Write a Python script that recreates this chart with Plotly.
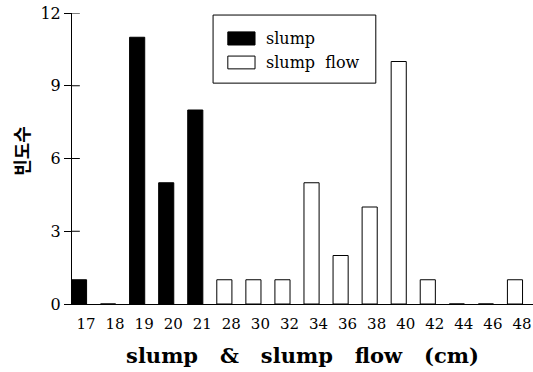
import plotly.graph_objects as go

categories = ["17", "18", "19", "20", "21", "28", "30", "32", "34", "36", "38", "40", "42", "44", "46", "48"]
slump_x = ["17", "18", "19", "20", "21"]
slump_y = [1, 0, 11, 5, 8]
flow_x = ["28", "30", "32", "34", "36", "38", "40", "42", "44", "46", "48"]
flow_y = [1, 1, 1, 5, 2, 4, 10, 1, 0, 0, 1]
y_ticks = [0, 3, 6, 9, 12]

SERIF = "DejaVu Serif"
NB = "\u00a0"

fig = go.Figure()
fig.add_trace(go.Bar(x=slump_x, y=slump_y, name="slump", width=0.52, offset=-0.5,
                     marker=dict(color="black", line=dict(color="black", width=1)),
                     showlegend=False))
fig.add_trace(go.Bar(x=flow_x, y=flow_y, name="slump flow", width=0.52, offset=-0.5,
                     marker=dict(color="white", line=dict(color="black", width=1)),
                     showlegend=False))

# inner half of the y tick marks (cross-through ticks)
shapes = []
for t in y_ticks:
    shapes.append(dict(type="line", xref="paper", yref="y", x0=0, x1=0.017, y0=t, y1=t,
                       line=dict(color="black", width=1)))

# custom legend
shapes.append(dict(type="rect", xref="paper", yref="paper", x0=0.306, x1=0.659, y0=0.759, y1=0.993,
                   line=dict(color="black", width=1), fillcolor="white"))
shapes.append(dict(type="rect", xref="paper", yref="paper", x0=0.338, x1=0.397, y0=0.890, y1=0.935,
                   line=dict(color="black", width=1), fillcolor="black"))
shapes.append(dict(type="rect", xref="paper", yref="paper", x0=0.338, x1=0.397, y0=0.808, y1=0.852,
                   line=dict(color="black", width=1), fillcolor="white"))

annotations = [
    dict(text="slump", xref="paper", yref="paper", x=0.417, y=0.914, xanchor="left", yanchor="middle",
         showarrow=False, font=dict(family=SERIF, size=16, color="black")),
    dict(text="slump" + NB * 2 + "flow", xref="paper", yref="paper", x=0.417, y=0.830,
         xanchor="left", yanchor="middle",
         showarrow=False, font=dict(family=SERIF, size=16, color="black")),
    dict(text="<b>빈도수</b>", xref="paper", yref="paper", x=-0.111, y=0.526, xanchor="center",
         yanchor="middle", textangle=-90, showarrow=False,
         font=dict(family="Noto Sans CJK KR", size=18, color="black")),
]

xtitle = "slump" + NB * 3 + "&amp;" + NB * 3 + "slump" + NB * 3 + "flow" + NB * 3 + "(cm)"

fig.update_layout(
    width=533, height=372,
    margin=dict(l=72, r=0, t=13, b=68),
    paper_bgcolor="white", plot_bgcolor="white",
    barmode="overlay",
    shapes=shapes,
    annotations=annotations,
    xaxis=dict(type="category", categoryorder="array", categoryarray=categories,
               range=[-0.482, 15.38], showgrid=False, zeroline=False,
               showline=True, linecolor="black", linewidth=1, ticks="",
               ticklabelstandoff=6,
               tickfont=dict(family=SERIF, size=15, color="black"),
               title=dict(text="<b>" + xtitle + "</b>", standoff=16,
                          font=dict(family=SERIF, size=21, color="black"))),
    yaxis=dict(range=[0, 12], tickvals=y_ticks, showgrid=False, zeroline=False,
               showline=True, linecolor="black", linewidth=1, ticks="outside", ticklen=7,
               tickcolor="black",
               tickfont=dict(family=SERIF, size=16, color="black")),
)

fig.write_html("out.html")
